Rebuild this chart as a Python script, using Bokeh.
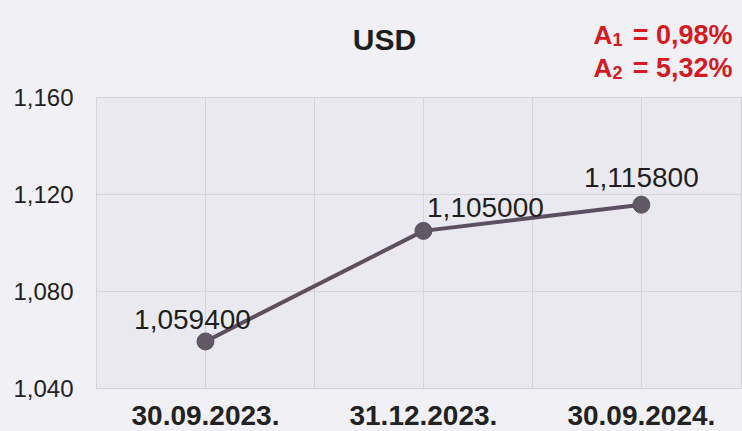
from bokeh.plotting import figure
from bokeh.models import FixedTicker, ColumnDataSource, Range1d
from bokeh.layouts import column
from bokeh.core.properties import value
from bokeh.embed import file_html
from bokeh.resources import INLINE

categories = ["30.09.2023.", "31.12.2023.", "30.09.2024."]
values = [1.0594, 1.105, 1.1158]
value_labels = ["1,059400", "1,105000", "1,115800"]
y_ticks = [1.04, 1.08, 1.12, 1.16]
y_tick_labels = ["1,040", "1,080", "1,120", "1,160"]
title_text = "USD"
a_letters = ["A", "A"]
a_subs = ["1", "2"]
a_texts = ["= 0,98%", "= 5,32%"]

# label placement (styles)
lab_dx = [-13, 62, 0]
lab_dy = [-22, -23, -27]

FONT = "Liberation Sans"
BORDER = "#f1f0f4"
RED = "#d61a22"
LEFT = 96

# ---------- header (title + red annotations), pixel-space ----------
HEAD_H = 82
h = figure(width=742, height=HEAD_H, output_backend="svg", toolbar_location=None,
           x_range=Range1d(LEFT, 742), y_range=Range1d(HEAD_H, 0),
           x_axis_type=None, y_axis_type=None,
           min_border_left=LEFT, min_border_right=0, min_border_top=0, min_border_bottom=0,
           styles={"background-color": BORDER})
h.border_fill_color = BORDER
h.background_fill_color = BORDER
h.outline_line_color = None
h.grid.visible = False

h.text(x=[384], y=[39], text=[title_text], text_align="center", text_baseline="alphabetic",
       text_font=value(FONT), text_font_size="30px", text_font_style="bold", text_color="#1e1e1e")
base_y = [34, 67]
h.text(x=[593, 593], y=base_y, text=a_letters, text_align="left", text_baseline="alphabetic",
       text_font=value(FONT), text_font_size="26px", text_font_style="bold", text_color=RED)
h.text(x=[612, 612], y=[b + 5 for b in base_y], text=a_subs, text_align="left",
       text_baseline="alphabetic", text_font=value(FONT), text_font_size="18px",
       text_font_style="bold", text_color=RED)
h.text(x=[732, 732], y=base_y, text=a_texts, text_align="right", text_baseline="alphabetic",
       text_font=value(FONT), text_font_size="27px", text_font_style="bold", text_color=RED)

# ---------- main chart ----------
xs = list(range(len(categories)))
src = ColumnDataSource(dict(x=xs, y=values, t=value_labels, dx=lab_dx, dy=lab_dy))

p = figure(width=742, height=431 - HEAD_H, output_backend="svg", toolbar_location=None,
           x_range=Range1d(-0.5, 2.464), y_range=Range1d(1.04, 1.16),
           min_border_left=LEFT, min_border_right=0, min_border_top=97 - HEAD_H,
           min_border_bottom=43, styles={"background-color": BORDER})
p.border_fill_color = BORDER
p.background_fill_color = "#ebe9f0"
p.outline_line_color = "#d2d0d8"

p.xaxis.ticker = FixedTicker(ticks=xs)
p.xaxis.major_label_overrides = {i: c for i, c in enumerate(categories)}
p.xaxis.major_label_text_font = FONT
p.xaxis.major_label_text_font_size = "28px"
p.xaxis.major_label_text_font_style = "bold"
p.xaxis.major_label_text_color = "#222222"
p.xaxis.major_label_standoff = 11
p.yaxis.ticker = FixedTicker(ticks=y_ticks)
p.yaxis.major_label_overrides = {t: l for t, l in zip(y_ticks, y_tick_labels)}
p.yaxis.major_label_text_font = FONT
p.yaxis.major_label_text_font_size = "24px"
p.yaxis.major_label_text_color = "#222222"
p.yaxis.major_label_standoff = 17
for ax in (p.xaxis, p.yaxis):
    ax.axis_line_color = None
    ax.major_tick_line_color = None
    ax.minor_tick_line_color = None

p.xgrid.ticker = FixedTicker(ticks=[-0.5, 0, 0.5, 1, 1.5, 2])
p.ygrid.ticker = FixedTicker(ticks=y_ticks)
p.xgrid.grid_line_color = "#d6d4db"
p.ygrid.grid_line_color = "#d6d4db"

p.line("x", "y", source=src, line_color="#5a5060", line_width=4)
p.scatter("x", "y", source=src, size=17, fill_color="#615866", line_color="#5a5060")
p.text("x", "y", text="t", source=src, x_offset="dx", y_offset="dy",
       text_align="center", text_baseline="alphabetic", text_font_size="28px",
       text_color="#1e1e1e", text_font=value(FONT))

layout = column(h, p, spacing=0, styles={"background-color": BORDER})
open("out.html", "w").write(file_html(layout, INLINE))
